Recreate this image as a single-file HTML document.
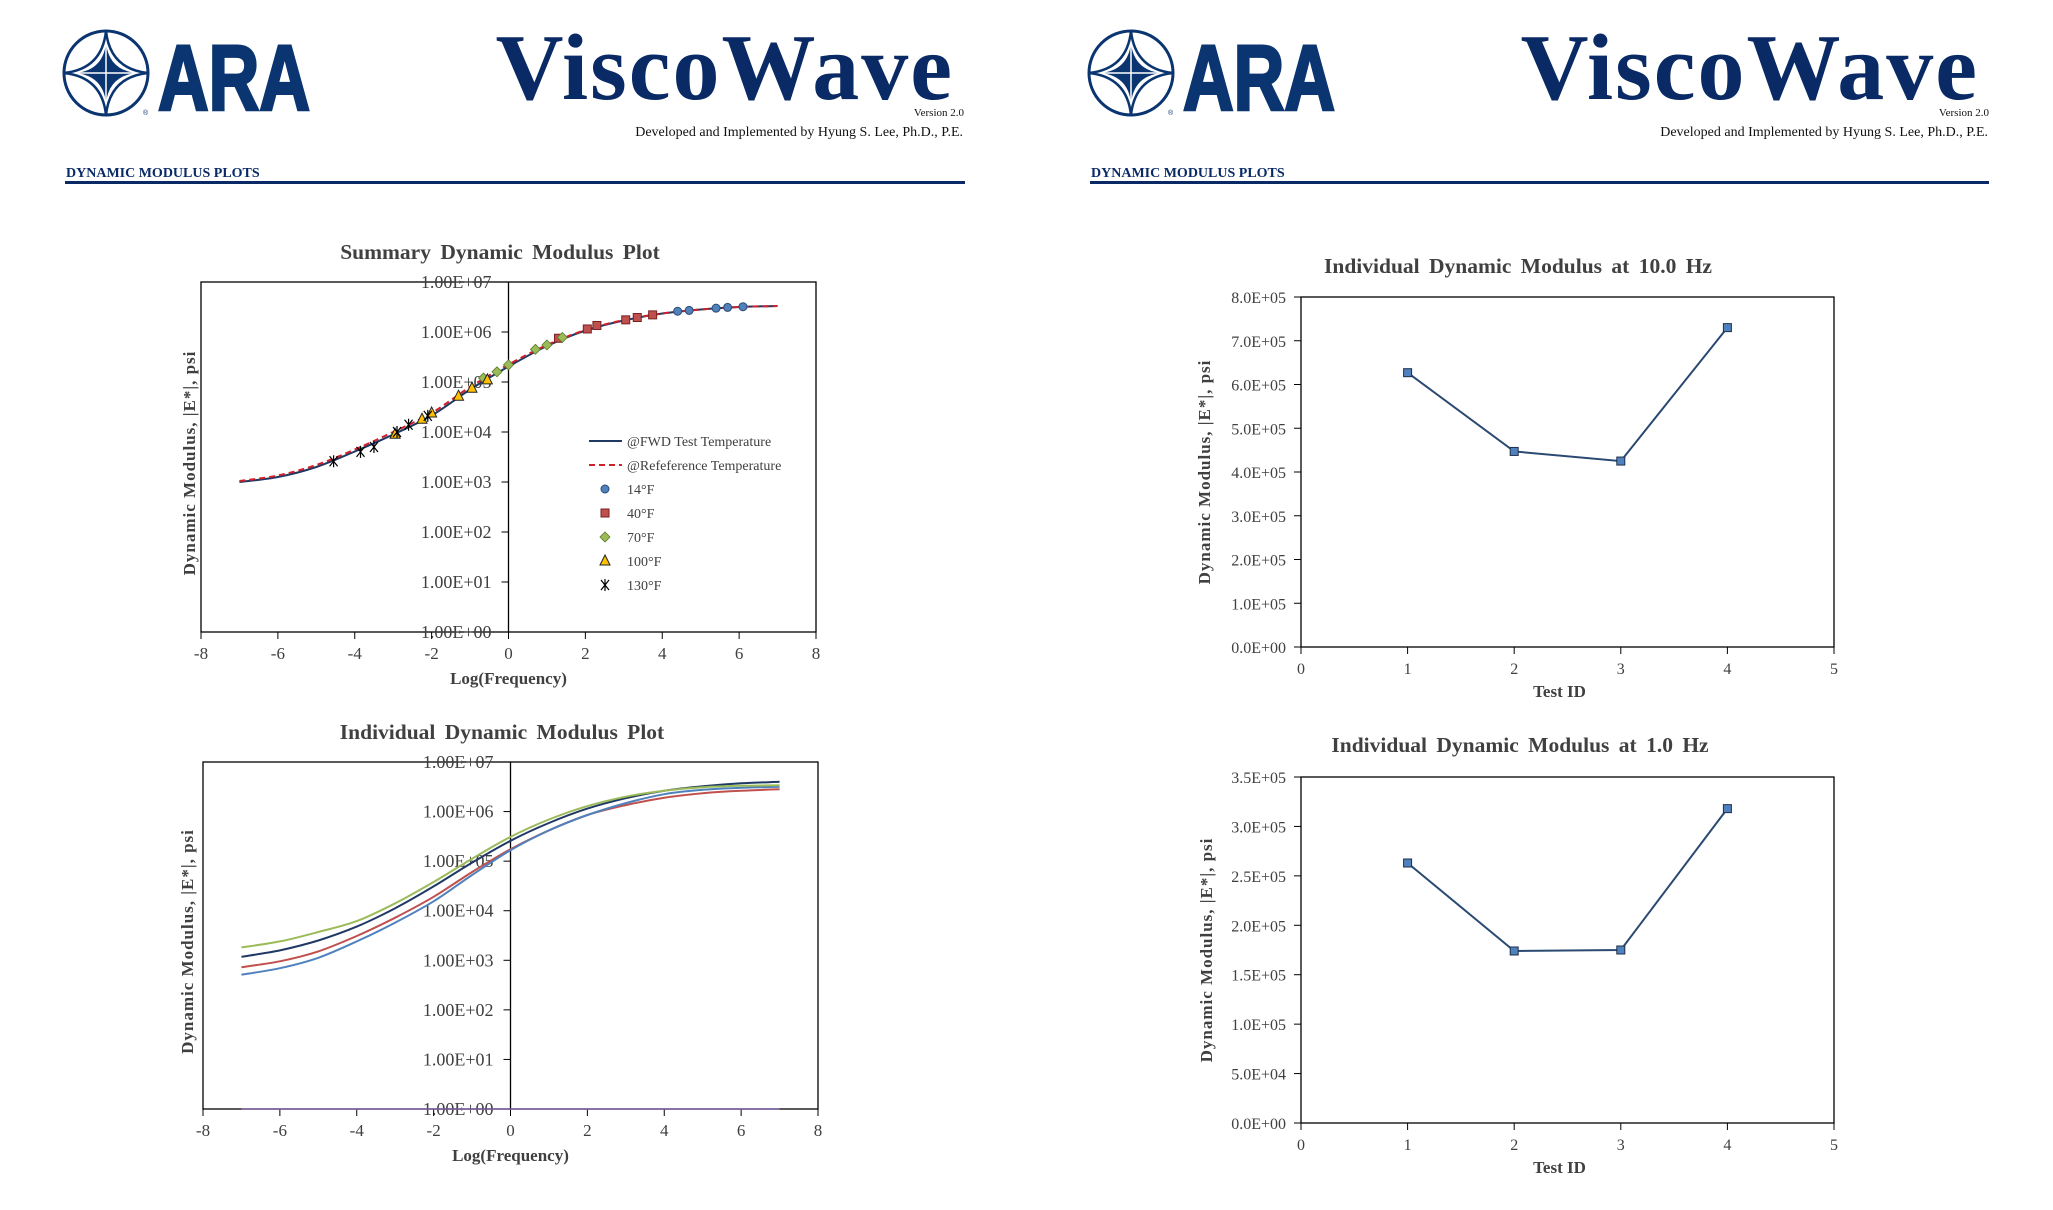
<!DOCTYPE html>
<html><head><meta charset="utf-8"><title>ViscoWave Dynamic Modulus Plots</title>
<style>
html,body{margin:0;padding:0;background:#fff;}
svg{display:block;font-family:"Liberation Serif",serif;}
</style></head>
<body>
<svg id="page" width="2053" height="1210" viewBox="0 0 2053 1210" xmlns="http://www.w3.org/2000/svg">
<defs>
<g id="ara-logo">
  <circle cx="106" cy="73" r="42" fill="none" stroke="#0a3570" stroke-width="3"/>
  <path d="M106 31 Q110 69 148 73 Q110 77 106 115 Q102 77 64 73 Q102 69 106 31 Z" fill="none" stroke="#0a3570" stroke-width="2.5"/>
  <path d="M106 43 Q109 70 136 73 Q109 76 106 103 Q103 76 76 73 Q103 70 106 43 Z" fill="#0a3570"/>
  <line x1="106" y1="43" x2="106" y2="103" stroke="#fff" stroke-width="1.5"/>
  <line x1="76" y1="73" x2="136" y2="73" stroke="#fff" stroke-width="1.5"/>
  <text x="143" y="115" font-family="Liberation Sans,sans-serif" font-size="7" fill="#0a3570">®</text>
  <text x="158" y="110" font-family="Liberation Sans,sans-serif" font-weight="bold" font-size="93" fill="#0a3570" stroke="#0a3570" stroke-width="3" textLength="152" lengthAdjust="spacingAndGlyphs">ARA</text>
</g>
</defs>
<g id="header-left">
  <use href="#ara-logo"/>
  <text x="954" y="99" text-anchor="end" font-size="94" font-weight="bold" fill="#0a2a66" letter-spacing="2">ViscoWave</text>
  <text x="964" y="116" text-anchor="end" font-size="11" fill="#111">Version 2.0</text>
  <text x="963" y="136" text-anchor="end" font-size="14" fill="#111">Developed and Implemented by Hyung S. Lee, Ph.D., P.E.</text>
  <text x="66" y="177" font-size="14" font-weight="bold" fill="#0a2a66">DYNAMIC MODULUS PLOTS</text>
  <rect x="65" y="181" width="900" height="3" fill="#0a2a66"/>
</g>
<g id="header-right" transform="translate(1025,0)">
  <use href="#ara-logo"/>
  <text x="954" y="99" text-anchor="end" font-size="94" font-weight="bold" fill="#0a2a66" letter-spacing="2">ViscoWave</text>
  <text x="964" y="116" text-anchor="end" font-size="11" fill="#111">Version 2.0</text>
  <text x="963" y="136" text-anchor="end" font-size="14" fill="#111">Developed and Implemented by Hyung S. Lee, Ph.D., P.E.</text>
  <text x="66" y="177" font-size="14" font-weight="bold" fill="#0a2a66">DYNAMIC MODULUS PLOTS</text>
  <rect x="65" y="181" width="899" height="3" fill="#0a2a66"/>
</g>
<g id="charts"></g>
</svg>
<script>
// ---------- data ----------
const logFreqX = [-7,-6,-5,-4,-3,-2,-1,0,1,2,3,4,5,6,7];
const fwdCurveLog = [3.0,3.1,3.3,3.61,3.95,4.33,4.85,5.31,5.72,6.03,6.23,6.37,6.45,6.5,6.52];
const refCurveLog = [3.02,3.13,3.34,3.65,4.0,4.38,4.9,5.35,5.74,6.04,6.24,6.37,6.45,6.5,6.52];
const pts14X = [4.4,4.7,5.4,5.7,6.1];
const pts14Y = [2.6e6,2.7e6,3.0e6,3.1e6,3.2e6];
const pts40X = [1.3,2.05,2.3,3.05,3.35,3.75];
const pts40Y = [7.5e5,1.15e6,1.35e6,1.75e6,1.95e6,2.2e6];
const pts70X = [-0.65,-0.3,0,0.7,1.0,1.4];
const pts70Y = [1.2e5,1.6e5,2.2e5,4.5e5,5.5e5,7.8e5];
const pts100X = [-2.95,-2.25,-2.0,-1.3,-0.95,-0.55];
const pts100Y = [9e3,1.8e4,2.4e4,5.2e4,7.5e4,1.1e5];
const pts130X = [-4.55,-3.85,-3.5,-2.9,-2.6,-2.1];
const pts130Y = [2.6e3,4e3,5e3,1e4,1.4e4,2.1e4];
const logTickLabels = ["1.00E+00","1.00E+01","1.00E+02","1.00E+03","1.00E+04","1.00E+05","1.00E+06","1.00E+07"];
const freqTickLabels = ["-8","-6","-4","-2","0","2","4","6","8"];
const indivNavyLog = [3.07,3.2,3.4,3.68,4.05,4.49,4.97,5.41,5.77,6.06,6.27,6.42,6.51,6.57,6.60];
const indivGreenLog = [3.26,3.38,3.57,3.79,4.15,4.58,5.05,5.49,5.84,6.11,6.3,6.42,6.49,6.52,6.53];
const indivRedLog = [2.86,2.98,3.18,3.49,3.86,4.28,4.78,5.24,5.62,5.93,6.13,6.28,6.37,6.42,6.45];
const indivBlueLog = [2.71,2.84,3.05,3.38,3.76,4.19,4.72,5.22,5.62,5.93,6.17,6.35,6.44,6.48,6.50];
const testIds = [1,2,3,4];
const mod10Hz = [6.27e5,4.47e5,4.25e5,7.3e5];
const mod1Hz = [2.63e5,1.74e5,1.75e5,3.18e5];
const testTickLabels = ["0","1","2","3","4","5"];
const tick10Labels = ["0.0E+00","1.0E+05","2.0E+05","3.0E+05","4.0E+05","5.0E+05","6.0E+05","7.0E+05","8.0E+05"];
const tick1Labels = ["0.0E+00","5.0E+04","1.0E+05","1.5E+05","2.0E+05","2.5E+05","3.0E+05","3.5E+05"];

// ---------- helpers ----------
const NS="http://www.w3.org/2000/svg";
const root=document.getElementById('charts');
function mk(tag,attrs,parent){const e=document.createElementNS(NS,tag);for(const k in attrs)e.setAttribute(k,attrs[k]);(parent||root).appendChild(e);return e;}
function txt(s,attrs,parent){const e=mk('text',attrs,parent);e.textContent=s;return e;}
function smoothPath(pts){
  let d="M"+pts[0][0].toFixed(1)+" "+pts[0][1].toFixed(1);
  for(let i=0;i<pts.length-1;i++){
    const p0=pts[Math.max(0,i-1)],p1=pts[i],p2=pts[i+1],p3=pts[Math.min(pts.length-1,i+2)];
    const c1=[p1[0]+(p2[0]-p0[0])/6,p1[1]+(p2[1]-p0[1])/6];
    const c2=[p2[0]-(p3[0]-p1[0])/6,p2[1]-(p3[1]-p1[1])/6];
    d+=" C"+c1[0].toFixed(1)+" "+c1[1].toFixed(1)+" "+c2[0].toFixed(1)+" "+c2[1].toFixed(1)+" "+p2[0].toFixed(1)+" "+p2[1].toFixed(1);
  }
  return d;
}
const GRAY="#404040";

function logChart(name,box,title,titleX,titleY,ytitleX){
  const g=mk('g',{});
  
  
  const sx=v=>box.x0+(v+8)/16*(box.x1-box.x0);
  const sy=lv=>box.y1-lv/7*(box.y1-box.y0);
  const t=txt(title,{x:titleX,y:titleY,'text-anchor':'middle','font-size':21.5,'font-weight':'bold',fill:GRAY,'word-spacing':4},g);
  
  
  const r=mk('rect',{x:box.x0,y:box.y0,width:box.x1-box.x0,height:box.y1-box.y0,fill:'none',stroke:'#000','stroke-width':1.3},g);
  
  
  const ax=mk('line',{x1:sx(0),x2:sx(0),y1:box.y0,y2:box.y1,stroke:'#000','stroke-width':1.3},g);
  
  
  logTickLabels.forEach((lab,i)=>{
    const y=sy(i);
    mk('line',{x1:sx(0)-7,x2:sx(0),y1:y,y2:y,stroke:'#000','stroke-width':1},g);
    const l=txt(lab,{x:sx(0)-17,y:y+6,'text-anchor':'end','font-size':18,fill:GRAY},g);
    
    
  });
  freqTickLabels.forEach(lab=>{
    const x=sx(parseFloat(lab));
    mk('line',{x1:x,x2:x,y1:box.y1,y2:box.y1+7,stroke:'#000','stroke-width':1},g);
    const l=txt(lab,{x:x,y:box.y1+27,'text-anchor':'middle','font-size':17,fill:GRAY},g);
    
    
  });
  const xt=txt("Log(Frequency)",{x:sx(0),y:box.y1+52,'text-anchor':'middle','font-size':17,'font-weight':'bold',fill:GRAY},g);
  
  
  const cy=(box.y0+box.y1)/2+6;
  const yt=txt("Dynamic Modulus, |E*|, psi",{x:ytitleX,y:cy,'text-anchor':'middle','font-size':17,'font-weight':'bold',fill:GRAY,'letter-spacing':1,transform:`rotate(-90 ${ytitleX} ${cy})`},g);
  
  
  return {g,sx,sy};
}

// ---------- Summary chart ----------
const S=logChart('summary-chart',{x0:201,x1:816,y0:282,y1:632},"Summary Dynamic Modulus Plot",500,259,195);
const fwd=mk('path',{d:smoothPath(logFreqX.map((x,i)=>[S.sx(x),S.sy(fwdCurveLog[i])])),fill:'none',stroke:'#1f3864','stroke-width':2},S.g);


const ref=mk('path',{d:smoothPath(logFreqX.map((x,i)=>[S.sx(x),S.sy(refCurveLog[i])])),fill:'none',stroke:'#d0202a','stroke-width':2,'stroke-dasharray':'6 4'},S.g);



function marker(type,x,y,parent){
  let e;
  if(type==='circle') e=mk('circle',{cx:x,cy:y,r:4,fill:'#4f81bd',stroke:'#2a4a72','stroke-width':1},parent);
  else if(type==='square') e=mk('rect',{x:x-4,y:y-4,width:8,height:8,fill:'#c0504d',stroke:'#7a2020','stroke-width':1},parent);
  else if(type==='diamond') e=mk('path',{d:`M${x} ${y-5}L${x+5} ${y}L${x} ${y+5}L${x-5} ${y}Z`,fill:'#9bbb59',stroke:'#5a7a2a','stroke-width':0.8},parent);
  else if(type==='triangle') e=mk('path',{d:`M${x} ${y-6}L${x+5} ${y+4}L${x-5} ${y+4}Z`,fill:'#ffc000',stroke:'#222','stroke-width':1},parent);
  else e=mk('path',{d:`M${x-4} ${y-5}L${x+4} ${y+5}M${x+4} ${y-5}L${x-4} ${y+5}M${x} ${y-6}L${x} ${y+6}`,stroke:'#000','stroke-width':1.2,fill:'none'},parent);
  return e;
}
const series=[["circle",pts14X,pts14Y,"14°F"],["square",pts40X,pts40Y,"40°F"],["diamond",pts70X,pts70Y,"70°F"],["triangle",pts100X,pts100Y,"100°F"],["star",pts130X,pts130Y,"130°F"]];
series.forEach(s=>{
  s[1].forEach((x,i)=>{
    const m=marker(s[0],S.sx(x),S.sy(Math.log10(s[2][i])),S.g);
    
    
  });
});
// legend
const leg=mk('g',{},S.g);


const legY=[441,465,489,513,537,561,585];
mk('line',{x1:589,x2:622,y1:legY[0],y2:legY[0],stroke:'#1f3864','stroke-width':2},leg);
mk('line',{x1:589,x2:622,y1:legY[1],y2:legY[1],stroke:'#d0202a','stroke-width':2,'stroke-dasharray':'6 4'},leg);
const legLabels=["@FWD Test Temperature","@Refeference Temperature"].concat(series.map(s=>s[3]));
series.forEach((s,i)=>marker(s[0],605,legY[i+2],leg));
legLabels.forEach((l,i)=>{
  const e=txt(l,{x:627,y:legY[i]+5,'font-size':14,fill:GRAY},leg);
  
  
});

// ---------- Individual chart ----------
const I=logChart('individual-chart',{x0:203,x1:818,y0:762,y1:1109},"Individual Dynamic Modulus Plot",502,739,193);
const bl=mk('line',{x1:I.sx(-7),x2:I.sx(7),y1:I.sy(0),y2:I.sy(0),stroke:'#7a5fa0','stroke-width':1.5},I.g);


[["test-1-curve",indivNavyLog,"#1f3864"],["test-2-curve",indivRedLog,"#c0504d"],["test-3-curve",indivBlueLog,"#4f81bd"],["test-4-curve",indivGreenLog,"#9bbb59"]].forEach(c=>{
  const p=mk('path',{d:smoothPath(logFreqX.map((x,i)=>[I.sx(x),I.sy(c[1][i])])),fill:'none',stroke:c[2],'stroke-width':2},I.g);
  
  
});

// ---------- Linear charts ----------
function linChart(name,box,title,titleX,titleY,ticks,step,vals,ytitleX){
  const g=mk('g',{});
  
  
  const ymax=step*(ticks.length-1);
  const sx=v=>box.x0+v/5*(box.x1-box.x0);
  const sy=v=>box.y1-v/ymax*(box.y1-box.y0);
  const t=txt(title,{x:titleX,y:titleY,'text-anchor':'middle','font-size':21.5,'font-weight':'bold',fill:GRAY,'word-spacing':4},g);
  
  
  const r=mk('rect',{x:box.x0,y:box.y0,width:box.x1-box.x0,height:box.y1-box.y0,fill:'none',stroke:'#000','stroke-width':1.3},g);
  
  
  ticks.forEach((lab,i)=>{
    const y=sy(i*step);
    mk('line',{x1:box.x0-7,x2:box.x0,y1:y,y2:y,stroke:'#000','stroke-width':1},g);
    const l=txt(lab,{x:box.x0-15,y:y+6,'text-anchor':'end','font-size':16,fill:GRAY},g);
    
    
  });
  testTickLabels.forEach(lab=>{
    const x=sx(parseFloat(lab));
    mk('line',{x1:x,x2:x,y1:box.y1,y2:box.y1+7,stroke:'#000','stroke-width':1},g);
    const l=txt(lab,{x:x,y:box.y1+27,'text-anchor':'middle','font-size':16,fill:GRAY},g);
    
    
  });
  const xt=txt("Test ID",{x:sx(2.5)-8,y:box.y1+50,'text-anchor':'middle','font-size':17,'font-weight':'bold',fill:GRAY},g);
  
  
  const cy=(box.y0+box.y1)/2;
  const yt=txt("Dynamic Modulus, |E*|, psi",{x:ytitleX,y:cy,'text-anchor':'middle','font-size':17,'font-weight':'bold',fill:GRAY,'letter-spacing':1,transform:`rotate(-90 ${ytitleX} ${cy})`},g);
  
  
  const ln=mk('polyline',{points:testIds.map((id,i)=>sx(id)+","+sy(vals[i])).join(" "),fill:'none',stroke:'#2a4a72','stroke-width':2},g);
  
  
  testIds.forEach((id,i)=>{
    const m=mk('rect',{x:sx(id)-4,y:sy(vals[i])-4,width:8,height:8,fill:'#4f81bd',stroke:'#1f2f4a','stroke-width':1},g);
    
    
  });
}
linChart('modulus-10hz-chart',{x0:1301,x1:1834,y0:297,y1:647},"Individual Dynamic Modulus at 10.0 Hz",1518,273,tick10Labels,1e5,mod10Hz,1210);
linChart('modulus-1hz-chart',{x0:1301,x1:1834,y0:777,y1:1123},"Individual Dynamic Modulus at 1.0 Hz",1520,752,tick1Labels,5e4,mod1Hz,1212);
</script>
</body></html>
